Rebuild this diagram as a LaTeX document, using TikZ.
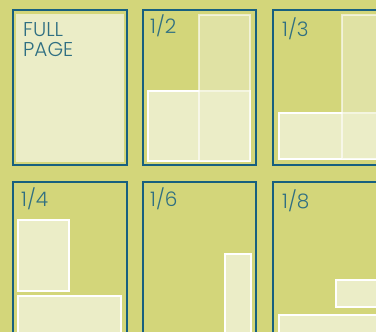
\documentclass[tikz,border=0pt]{standalone}
\usepackage{fontspec}
\IfFontExistsTF{Poppins Light}{\setmainfont{Poppins Light}}{\setmainfont{Poppins}}
\usepackage{tikz}
\usetikzlibrary{positioning}
\definecolor{olive}{HTML}{D3D67A}
\definecolor{paper}{HTML}{EBEDC7}
\definecolor{frame}{HTML}{17607F}
\definecolor{ink}{HTML}{2F6F82}
\begin{document}
\begin{tikzpicture}[x=1pt,y=-1pt,
    panel/.style={draw=frame,line width=2pt},
    adbox/.style={draw=white,line width=1.5pt,fill=paper},
    ghost/.style={draw=white,draw opacity=0.6,line width=1.5pt,fill=paper,fill opacity=0.55},
    lbl/.style={anchor=north west,inner sep=0pt,text=ink,font=\fontsize{20}{20}\selectfont,align=left}]

% Background
\fill[olive] (0,0) rectangle (376,332);
\useasboundingbox (0,0) rectangle (376,332);

% Full page
\fill[paper] (16,14) rectangle (124,162);
\draw[panel] (13,10) rectangle (127,165);
\node[lbl] (full) at (23,22) {FULL\\PAGE};

% Half page
\draw[panel] (143,10) rectangle (256,165);
\node[lbl] (half) at (150,15) {1/2};
\draw[adbox] (148,91) rectangle (250,161);
\draw[ghost] (199,15) rectangle (250,161);

% Third page
\draw[panel] (273,10) rectangle (380,165);
\node[lbl] (third) at (282,18) {1/3};
\draw[adbox] (279,113) rectangle (380,159);
\draw[ghost] (342,15) rectangle (380,159);

% Quarter page
\draw[panel] (13,182) rectangle (127,340);
\node[lbl] (quarter) at (21,188) {1/4};
\draw[adbox] (18,220) rectangle (69,291);
\draw[adbox] (18,296) rectangle (121,340);

% Sixth page
\draw[panel] (143,182) rectangle (256,340);
\node[lbl] (sixth) at (150,188) {1/6};
\draw[adbox] (225,254) rectangle (251,340);

% Eighth page
\draw[panel] (273,182) rectangle (380,340);
\node[lbl] (eighth) at (282,189) {1/8};
\draw[adbox] (336,280) rectangle (380,307);
\draw[adbox] (279,315) rectangle (380,340);

\end{tikzpicture}
\end{document}
